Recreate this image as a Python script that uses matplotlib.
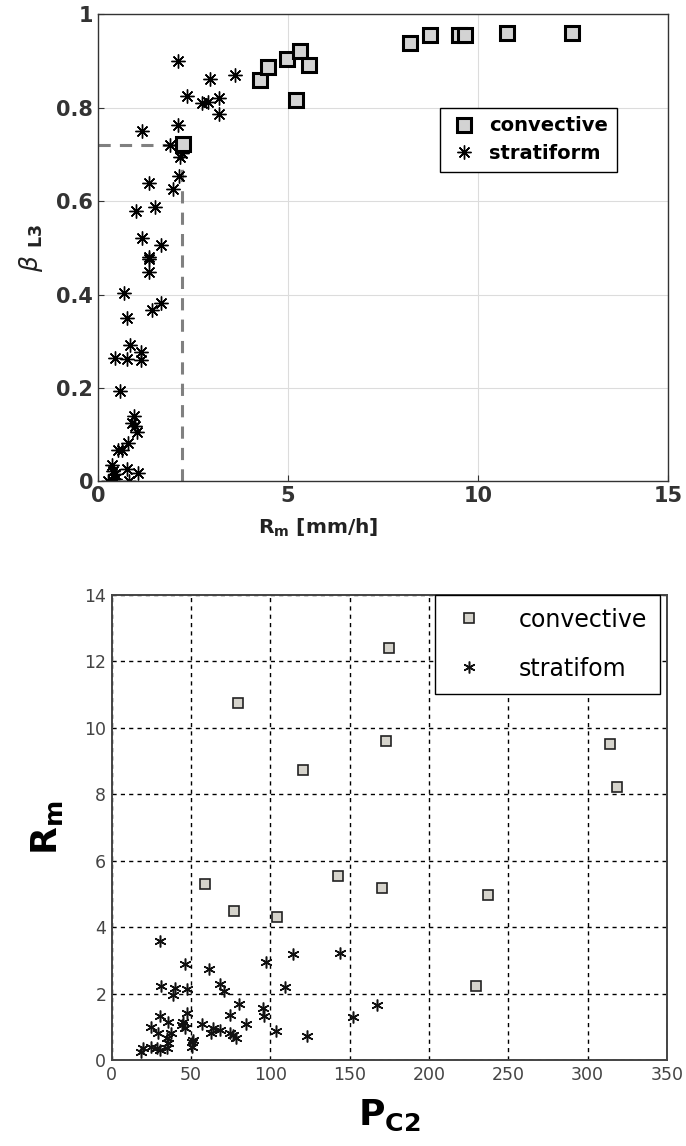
import numpy as np
import matplotlib.pyplot as plt

# top panel: R_m vs beta_L3
conv_rm = [2.24, 4.26, 4.47, 4.97, 5.32, 5.21, 5.55, 8.21, 8.74, 9.5, 9.66, 10.76, 12.47]
conv_beta = [0.722, 0.859, 0.887, 0.904, 0.921, 0.816, 0.891, 0.938, 0.955, 0.955, 0.955, 0.961, 0.961]

strat_rm = [2.1, 2.95, 3.6, 2.35, 2.73, 2.9, 3.19, 3.17, 1.15, 2.11, 1.89, 2.2, 2.16, 2.14,
            1.98, 1.33, 1.5, 1.0, 1.15, 1.66, 1.33, 1.33, 1.33, 0.68, 0.76, 1.42, 1.66, 0.84,
            0.45, 0.76, 1.13, 1.13, 0.58, 0.95, 0.89, 0.97, 1.03, 0.79, 0.53, 0.63, 0.37,
            0.39, 0.45, 0.76, 1.05, 0.27, 0.39, 0.82, 0.45]
strat_beta = [0.899, 0.861, 0.871, 0.826, 0.81, 0.812, 0.82, 0.787, 0.75, 0.762, 0.72, 0.702,
              0.694, 0.653, 0.627, 0.638, 0.587, 0.579, 0.522, 0.505, 0.48, 0.477, 0.448,
              0.403, 0.349, 0.366, 0.381, 0.291, 0.265, 0.263, 0.276, 0.259, 0.193, 0.139,
              0.124, 0.118, 0.105, 0.081, 0.066, 0.066, 0.036, 0.023, 0.015, 0.026, 0.017,
              0.0, 0.0, 0.0, 0.006]

thr_rm, thr_beta = 2.2, 0.72

# bottom panel: P_C2 vs R_m
conv_pc2 = [79.4, 120.6, 174.7, 172.8, 314, 318.6, 58.6, 77, 104, 142.7, 170.4, 237, 229.5]
conv_rm2 = [10.75, 8.73, 12.41, 9.6, 9.52, 8.22, 5.3, 4.49, 4.31, 5.54, 5.18, 4.97, 2.23]

strat_pc2 = [30.3, 46.4, 61.4, 97.1, 114.3, 143.8, 31.3, 39.7, 38.3, 47.1, 68.5, 70.6, 109.1,
             80.1, 74.4, 95.4, 96.1, 84.9, 103.4, 122.8, 30.3, 25, 35.5, 45, 44, 47.1, 46,
             56.9, 63.9, 62.8, 68.1, 74.4, 76.5, 78.6, 29.2, 34.5, 37.6, 35.5, 51.3, 50.6,
             50.4, 19.8, 18.7, 25, 28.2, 30.3, 34.5, 152.1, 167.5]
strat_rm3 = [3.59, 2.89, 2.73, 2.94, 3.18, 3.21, 2.24, 2.16, 1.96, 2.13, 2.29, 2.09, 2.19,
             1.68, 1.36, 1.56, 1.33, 1.08, 0.87, 0.73, 1.34, 1.0, 1.15, 1.15, 1.05, 1.41, 0.95,
             1.08, 0.95, 0.8, 0.9, 0.8, 0.75, 0.65, 0.8, 0.65, 0.8, 0.5, 0.6, 0.4,
             0.55, 0.35, 0.25, 0.4, 0.35, 0.3, 0.35, 1.3, 1.66]

fig = plt.figure(figsize=(6.86, 11.46), dpi=100)

# ---- top ----
ax1 = fig.add_axes([0.143, 0.580, 0.831, 0.4075])
ax1.plot([0, thr_rm], [thr_beta, thr_beta], '--', color='#808080', lw=2.2, dashes=(4, 3), zorder=1)
ax1.plot([thr_rm, thr_rm], [0, thr_beta], '--', color='#808080', lw=2.2, dashes=(4, 3), zorder=1)
ax1.plot(conv_rm, conv_beta, 's', ms=10.5, mfc='#d3d3d3', mec='black', mew=2.2,
         label='convective', zorder=3)
ax1.plot(strat_rm, strat_beta, ls='none', marker=(8, 2, 0), ms=10, color='black', mew=1.0,
         label='stratiform', zorder=2)
ax1.set_xlim(0, 15)
ax1.set_ylim(0, 1)
ax1.set_xticks([0, 5, 10, 15])
ax1.set_yticks([0, 0.2, 0.4, 0.6, 0.8, 1])
ax1.set_yticklabels(['0', '0.2', '0.4', '0.6', '0.8', '1'])
ax1.grid(True, color='#dcdcdc', lw=0.8)
ax1.set_axisbelow(True)
ax1.tick_params(direction='in', length=4, labelsize=15, colors='#333333')
for lab in ax1.get_xticklabels() + ax1.get_yticklabels():
    lab.set_fontweight('bold')
for s in ax1.spines.values():
    s.set_color('#333333')
    s.set_linewidth(1.0)
ax1.set_xlabel(r'R$_\mathbf{m}$ [mm/h]', fontsize=14.5, fontweight='bold', color='#222222')
ax1.xaxis.set_label_coords(0.386, -0.075)
ax1.set_ylabel(r'$\beta$ $_{\mathbf{L3}}$', fontsize=18, color='#222222', labelpad=8)
leg1 = ax1.legend(loc='upper right', bbox_to_anchor=(0.91, 0.8), borderaxespad=0,
                  prop={'weight': 'bold', 'size': 14}, fancybox=False, edgecolor='black',
                  framealpha=1, handletextpad=0.5, borderpad=0.45, labelspacing=0.45,
                  handlelength=1.6)
leg1.get_frame().set_linewidth(1.0)

# ---- bottom ----
ax2 = fig.add_axes([0.163, 0.075, 0.809, 0.406])
ax2.plot(conv_pc2, conv_rm2, 's', ms=7.5, mfc='#d6d4cc', mec='#222222', mew=1.2,
         label='convective', zorder=3)
ax2.plot(strat_pc2, strat_rm3, ls='none', marker=(6, 2, 0), ms=8.5, color='#111111', mew=1.1,
         label='stratifom', zorder=2)
ax2.set_xlim(0, 350)
ax2.set_ylim(0, 14)
ax2.set_xticks(np.arange(0, 351, 50))
ax2.set_yticks(np.arange(0, 15, 2))
ax2.grid(True, color='black', lw=1.0, ls=(0, (3, 3)))
ax2.set_axisbelow(True)
ax2.tick_params(direction='in', length=0, labelsize=12.5, colors='#444444', pad=4)
for s in ax2.spines.values():
    s.set_color('#444444')
    s.set_linewidth(1.4)
ax2.set_xlabel(r'P$_{\mathbf{C2}}$', fontsize=26, fontweight='bold', labelpad=10)
ax2.set_ylabel(r'R$_{\mathbf{m}}$', fontsize=26, fontweight='bold', labelpad=14)
leg2 = ax2.legend(loc='upper right', bbox_to_anchor=(0.988, 1.0), fontsize=17,
                  fancybox=False, edgecolor='black', framealpha=1, handletextpad=1.2,
                  borderpad=0.55, labelspacing=1.05, borderaxespad=0, handlelength=1.8)
leg2.get_frame().set_linewidth(1.0)

fig.savefig('out.png', dpi=100)
